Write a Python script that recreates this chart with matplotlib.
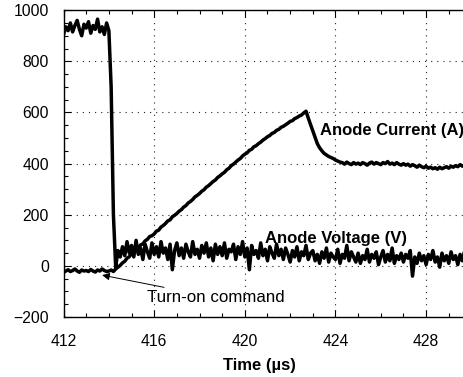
import matplotlib
matplotlib.use("Agg")
import matplotlib.pyplot as plt
from matplotlib.ticker import MultipleLocator
import numpy as np

# ── Scope traces, sampled every 0.1 µs from 412.0 to 430.0 µs ─────────────────
T_START = 412.0
T_STEP = 0.1

# anode voltage (V), one row per microsecond
voltage = [
    905, 935, 920, 950, 915, 940, 960, 925, 900, 945,   # 412
    930, 955, 910, 940, 925, 965, 915, 935, 905, 950,   # 413
    920, 700, 200, -5, 60, 35, 75, 40, 95, 50,          # 414
    80, 35, 100, 45, 70, 25, 85, 55, 30, 90,            # 415
    45, 75, 35, 95, 50, 70, 25, 85, -15, 60,            # 416
    90, 40, 70, 30, 85, 55, 35, 95, 45, 65,             # 417
    30, 80, 50, 90, 35, 70, 20, 85, 45, 75,             # 418
    40, 90, 30, 65, 55, 85, 25, 75, 45, 95,             # 419
    35, 70, -15, 80, 45, 60, 30, 90, 40, 65,            # 420
    20, 75, 50, 30, 85, 40, 65, 25, 70, 45,             # 421
    15, 60, 35, 75, 20, 55, 40, 80, 25, 50,             # 422
    60, 20, 45, 10, 55, 30, 70, 15, 50, 35,             # 423
    25, 65, 10, 45, 30, 80, 20, 55, 35, 15,             # 424
    50, 10, 40, 25, 65, 15, 45, 30, 55, 5,              # 425
    35, 60, 15, 45, 20, 70, 10, 40, 25, 50,             # 426
    15, 45, 30, 60, -40, 35, 10, 50, 20, 40,            # 427
    5, 45, 25, 60, 15, 35, -5, 50, 20, 40,              # 428
    10, 55, 25, 40, 5, 45, 20, 60, 15, 35,              # 429
    30,                                                 # 430
]

# anode current (A)
current = [
    -25, -20, -15, -22, -18, -12, -20, -25, -16, -20,   # 412
    -18, -22, -14, -20, -24, -16, -20, -12, -18, -22,   # 413
    -20, -16, -22, -12, -5, 2, 12, 18, 30, 36,          # 414
    48, 52, 64, 70, 82, 86, 98, 104, 115, 118,          # 415
    125, 136, 140, 152, 158, 166, 176, 180, 192, 198,   # 416
    205, 214, 220, 230, 236, 246, 252, 260, 270, 276,   # 417
    283, 292, 298, 308, 314, 322, 330, 336, 346, 352,   # 418
    360, 366, 376, 382, 392, 398, 406, 414, 420, 430,   # 419
    437, 442, 452, 456, 466, 470, 478, 484, 492, 498,   # 420
    505, 510, 518, 522, 530, 534, 542, 546, 552, 558,   # 421
    565, 568, 576, 580, 586, 590, 598, 605, 578, 553,   # 422
    528, 502, 478, 462, 450, 440, 434, 428, 424, 420,   # 423
    414, 410, 406, 404, 398, 406, 400, 396, 404, 398,   # 424
    402, 396, 404, 400, 394, 402, 406, 398, 404, 400,   # 425
    396, 404, 400, 408, 398, 402, 396, 404, 398, 394,   # 426
    400, 394, 398, 390, 396, 392, 386, 394, 388, 384,   # 427
    390, 382, 386, 380, 384, 378, 386, 380, 384, 388,   # 428
    382, 390, 386, 392, 388, 396, 390, 394, 398, 392,   # 429
    396,                                                # 430
]

t = T_START + T_STEP * np.arange(len(voltage))

XTICKS = [412, 416, 420, 424, 428]
YTICKS = [-200, 0, 200, 400, 600, 800, 1000]

FONT = "Liberation Sans"

# ── Figure ────────────────────────────────────────────────────────────────────
fig = plt.figure(figsize=(4.64, 3.77), dpi=100, facecolor="white")
ax = fig.add_axes([0.137, 0.159, 0.879, 0.814])

ax.plot(t, voltage, color="black", lw=2.5, zorder=3)
ax.plot(t, current, color="black", lw=2.5, zorder=3)

ax.set_xlim(412, 430)
ax.set_ylim(-200, 1000)
ax.set_xticks(XTICKS)
ax.set_yticks(YTICKS)
ax.xaxis.set_minor_locator(MultipleLocator(1))
ax.yaxis.set_minor_locator(MultipleLocator(50))

ax.grid(True, which="major", linestyle=(0, (1, 4.5)), color="#222", lw=0.8)
ax.set_axisbelow(True)
for sp in ax.spines.values():
    sp.set_color("black")
    sp.set_linewidth(1.0)

ax.tick_params(which="both", direction="in", top=True, right=True,
               color="black", width=0.8)
ax.tick_params(which="major", length=5)
ax.tick_params(which="minor", length=3)
ax.tick_params(axis="x", pad=12.5)
ax.tick_params(axis="y", pad=10.5)
for lab in ax.get_xticklabels() + ax.get_yticklabels():
    lab.set_family(FONT)
    lab.set_fontsize(11.3)

# ── Labels ────────────────────────────────────────────────────────────────────
ax.text(423.3, 528, "Anode Current (A)", family=FONT, fontsize=12,
        fontweight="bold", ha="left", va="center")
ax.text(420.9, 108, "Anode Voltage (V)", family=FONT, fontsize=12,
        fontweight="bold", ha="left", va="center")
ax.annotate("Turn-on command", xy=(413.7, -36), xytext=(415.7, -124),
            family=FONT, fontsize=12.2, ha="left", va="center",
            arrowprops=dict(arrowstyle="-|>", color="black", lw=0.7,
                            mutation_scale=11, shrinkA=0, shrinkB=0))

fig.text(259 / 464, 0.031, "Time (\u00b5s)", family=FONT, fontsize=12,
         fontweight="bold", ha="center", va="center")

fig.savefig("out.png", dpi=100, facecolor="white")
